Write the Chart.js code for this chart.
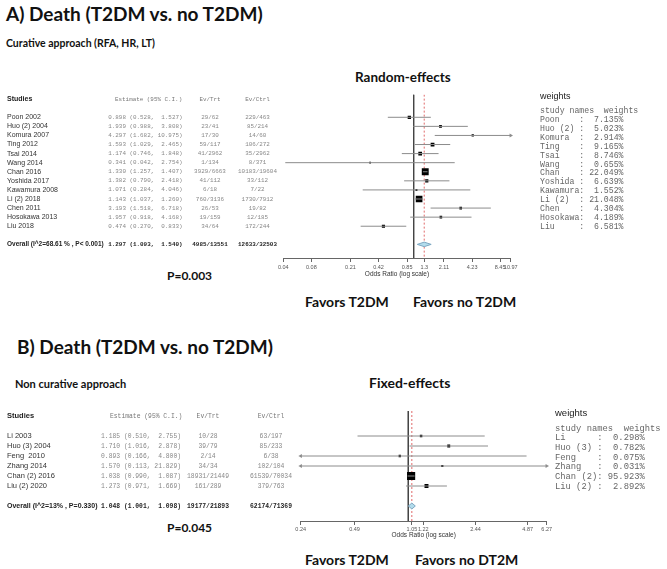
<!DOCTYPE html>
<html>
<head>
<meta charset="utf-8">
<script src="https://cdn.jsdelivr.net/npm/chart.js@4.4.1/dist/chart.umd.min.js"></script>
<style>
  body { margin: 0; background: #fff; }
  #page { position: relative; width: 667px; height: 569px; overflow: hidden; font-family: Lato, "Liberation Sans", sans-serif; }
  .lbl { position: absolute; white-space: nowrap; font-weight: 700; color: #111; line-height: 1; }
  canvas { position: absolute; left: 0; }
</style>
</head>
<body>
<div id="page">
  <div class="lbl" style="left:6px;top:4px;font-size:19px">A) Death (T2DM vs. no T2DM)</div>
  <div class="lbl" style="left:6px;top:37.5px;font-size:10.5px">Curative approach (RFA, HR, LT)</div>
  <div class="lbl" style="left:355px;top:71px;font-size:13.5px">Random-effects</div>
  <div class="lbl" style="left:167px;top:270px;font-size:12px">P=0.003</div>
  <div class="lbl" style="left:305px;top:295px;font-size:14px">Favors T2DM</div>
  <div class="lbl" style="left:413px;top:295px;font-size:14px">Favors no T2DM</div>
  <div class="lbl" style="left:17px;top:336.5px;font-size:19px">B) Death (T2DM vs. no T2DM)</div>
  <div class="lbl" style="left:15px;top:377.5px;font-size:11px">Non curative approach</div>
  <div class="lbl" style="left:369px;top:376px;font-size:14px">Fixed-effects</div>
  <div class="lbl" style="left:167px;top:522px;font-size:12px">P=0.045</div>
  <div class="lbl" style="left:305px;top:553px;font-size:14px">Favors T2DM</div>
  <div class="lbl" style="left:415px;top:553px;font-size:14px">Favors no DT2M</div>
  <canvas id="forestA" width="667" height="290" style="top:0"></canvas>
  <canvas id="forestB" width="667" height="250" style="top:300px"></canvas>
</div>
<script>
// ---- A) curative approach, random effects ----
const studiesA = ['Poon 2002', 'Huo (2) 2004', 'Komura 2007', 'Ting 2012', 'Tsai 2014', 'Wang 2014', 'Chan 2016',
  'Yoshida 2017', 'Kawamura 2008', 'Li (2) 2018', 'Chen 2011', 'Hosokawa 2013', 'Liu 2018'];
const orA = [0.898, 1.939, 4.297, 1.593, 1.174, 0.341, 1.330, 1.382, 1.071, 1.143, 3.193, 1.957, 0.474];
const lowA = [0.528, 0.988, 1.682, 1.029, 0.746, 0.042, 1.257, 0.790, 0.284, 1.037, 1.518, 0.918, 0.270];
const highA = [1.527, 3.808, 10.975, 2.465, 1.848, 2.754, 1.407, 2.418, 4.046, 1.260, 6.718, 4.168, 0.833];
const evTrtA = ['29/62', '23/41', '17/30', '59/117', '41/2962', '1/134', '3929/6663', '41/112', '6/18', '760/3136', '26/53', '19/159', '34/64'];
const evCtrlA = ['229/463', '85/214', '14/60', '106/272', '35/2962', '8/371', '10183/19604', '33/112', '7/22', '1730/7912', '19/82', '12/185', '172/244'];
const weightNamesA = ['Poon', 'Huo (2)', 'Komura', 'Ting', 'Tsai', 'Wang', 'Chan', 'Yoshida', 'Kawamura', 'Li (2)', 'Chen', 'Hosokawa', 'Liu'];
const weightsA = [7.135, 5.023, 2.914, 9.165, 8.746, 0.655, 22.049, 6.639, 1.552, 21.048, 4.304, 4.189, 6.581];
const overallA = [1.297, 1.093, 1.540];
const overallEvA = ['4985/13551', '12633/32503'];
const overallLabelA = 'Overall (I^2=68.61 % , P< 0.001)';
const ticksA = [0.04, 0.08, 0.21, 0.42, 0.85, 1.3, 2.11, 4.23, 8.45, 10.97];
const tickLabelsA = ['0.04', '0.08', '0.21', '0.42', '0.85', '1.3', '2.11', '4.23', '8.45', '10.97'];

// ---- B) non curative approach, fixed effects ----
const studiesB = ['Li 2003', 'Huo (3) 2004', 'Feng  2010', 'Zhang 2014', 'Chan (2) 2016', 'Liu (2) 2020'];
const orB = [1.185, 1.710, 0.893, 1.570, 1.038, 1.273];
const lowB = [0.510, 1.016, 0.166, 0.113, 0.990, 0.971];
const highB = [2.755, 2.878, 4.800, 21.829, 1.087, 1.669];
const evTrtB = ['10/28', '39/79', '2/14', '34/34', '18931/21449', '161/289'];
const evCtrlB = ['63/197', '85/233', '6/38', '102/104', '61539/70034', '379/763'];
const weightNamesB = ['Li', 'Huo (3)', 'Feng', 'Zhang', 'Chan (2)', 'Liu (2)'];
const weightsB = [0.298, 0.782, 0.075, 0.031, 95.923, 2.892];
const overallB = [1.048, 1.001, 1.098];
const overallEvB = ['19177/21893', '62174/71369'];
const overallLabelB = 'Overall (I^2=13% , P=0.330)';
const ticksB = [0.24, 0.49, 1.05, 1.22, 2.44, 4.87, 6.27];
const tickLabelsB = ['0.24', '0.49', '1.05', '1.22', '2.44', '4.87', '6.27'];

const SANS = '"Liberation Sans", Arial, sans-serif';
const MONO = '"Liberation Mono", "DejaVu Sans Mono", monospace';

function fmtEst(o, l, h) {
  return o.toFixed(3) + ' (' + l.toFixed(3) + ', ' + h.toFixed(3).padStart(6) + ')';
}

// draws the left table and the weights list next to the plot
function tablePlugin(p) {
  return {
    id: 'forestTable',
    afterDraw(chart) {
      const ctx = chart.ctx;
      const y = chart.scales.y;
      const yAt = r => y.getPixelForValue(r);
      ctx.save();
      ctx.textBaseline = 'middle';

      // header
      ctx.fillStyle = '#222';
      ctx.textAlign = 'left';
      ctx.font = 'bold ' + p.nameSize + 'px ' + SANS;
      ctx.fillText('Studies', p.colName, yAt(-2));
      ctx.fillStyle = '#777';
      ctx.font = p.monoSize + 'px ' + MONO;
      ctx.fillText('Estimate (95% C.I.)', p.colHead, yAt(-2));
      ctx.textAlign = 'center';
      ctx.fillText('Ev/Trt', p.colTrt, yAt(-2));
      ctx.fillText('Ev/Ctrl', p.colCtrl, yAt(-2));

      // study rows
      p.studies.forEach((s, i) => {
        const yy = yAt(i);
        ctx.textAlign = 'left';
        ctx.fillStyle = '#333';
        ctx.font = p.nameSize + 'px ' + SANS;
        ctx.fillText(s, p.colName, yy);
        ctx.fillStyle = '#888';
        ctx.font = p.monoSize + 'px ' + MONO;
        ctx.textAlign = 'right';
        ctx.fillText(fmtEst(p.or[i], p.low[i], p.high[i]), p.colEst, yy);
        ctx.textAlign = 'center';
        ctx.fillText(p.evTrt[i], p.colTrt, yy);
        ctx.fillText(p.evCtrl[i], p.colCtrl, yy);
      });

      // overall row
      const yo = yAt(p.studies.length + 1);
      ctx.fillStyle = '#222';
      ctx.textAlign = 'left';
      ctx.font = 'bold ' + (p.nameSize - 0.5) + 'px ' + SANS;
      ctx.fillText(p.overallLabel, p.colName, yo);
      ctx.font = 'bold ' + p.monoSize + 'px ' + MONO;
      ctx.textAlign = 'right';
      ctx.fillText(fmtEst(p.overall[0], p.overall[1], p.overall[2]), p.colEst, yo);
      ctx.textAlign = 'center';
      ctx.fillText(p.overallEv[0], p.colTrt, yo);
      ctx.fillText(p.overallEv[1], p.colCtrl, yo);

      // weights list
      ctx.textAlign = 'left';
      ctx.fillStyle = '#222';
      ctx.font = p.wTitleSize + 'px ' + SANS;
      ctx.fillText('weights', p.wx, p.wTitleY);
      ctx.fillStyle = '#666';
      ctx.font = p.wSize + 'px ' + MONO;
      ctx.fillText('study names  weights', p.wx, p.wy);
      p.weightNames.forEach((n, i) => {
        const line = n.padEnd(8) + ': ' + p.weights[i].toFixed(3).padStart(6) + '%';
        ctx.fillText(line, p.wx, p.wy + (i + 1) * p.wStep);
      });
      ctx.restore();
    }
  };
}

function forestChart(id, p) {
  const n = p.or.length;
  const rowO = n + 1;
  const datasets = [];

  // confidence intervals, clipped to the axis with arrow heads
  for (let i = 0; i < n; i++) {
    const cutLeft = p.low[i] < p.xMin;
    const cutRight = p.high[i] > p.xMax;
    datasets.push({
      data: [{ x: Math.max(p.low[i], p.xMin), y: i }, { x: Math.min(p.high[i], p.xMax), y: i }],
      borderColor: '#8c8c8c',
      borderWidth: 1,
      pointRadius: [cutLeft ? 2.3 : 0, cutRight ? 2.3 : 0],
      pointStyle: 'triangle',
      pointRotation: [-90, 90],
      pointBackgroundColor: '#8c8c8c',
      pointBorderWidth: 0,
      clip: false,
      order: 0
    });
  }

  // study boxes
  datasets.push({
    data: p.or.map((v, i) => ({ x: v, y: i })),
    showLine: false,
    pointStyle: 'rect',
    pointRadius: p.weights.map(w => p.boxSide(w) / Math.SQRT2),
    pointBackgroundColor: '#000',
    pointBorderWidth: 0,
    order: 1
  });

  // pooled diamond
  const o = p.overall;
  datasets.push({
    data: [{ x: o[1], y: rowO }, { x: o[0], y: rowO - p.dh }, { x: o[2], y: rowO }, { x: o[0], y: rowO + p.dh }, { x: o[1], y: rowO }],
    borderColor: '#7ea8c2',
    borderWidth: 1,
    backgroundColor: '#b2dcec',
    fill: 'shape',
    pointRadius: 0,
    order: 1
  });

  // no effect line and pooled estimate line
  datasets.push({
    data: [{ x: 1, y: p.yMin }, { x: 1, y: p.yMax }],
    borderColor: '#444',
    borderWidth: 1,
    pointRadius: 0,
    order: 2
  });
  datasets.push({
    data: [{ x: o[0], y: p.yMin }, { x: o[0], y: p.yMax }],
    borderColor: '#e06a6a',
    borderWidth: 1,
    borderDash: [2, 2],
    pointRadius: 0,
    order: 2
  });

  return new Chart(document.getElementById(id), {
    type: 'line',
    data: { datasets: datasets },
    options: {
      responsive: false,
      animation: false,
      layout: { padding: { left: p.padL, right: p.padR, top: p.padT, bottom: p.padB } },
      plugins: { legend: { display: false }, tooltip: { enabled: false } },
      scales: {
        x: {
          type: 'logarithmic',
          min: p.xMin,
          max: p.xMax,
          afterBuildTicks: s => { s.ticks = p.ticks.map(v => ({ value: v })); },
          afterFit: s => { s.height = p.axisH; },
          ticks: {
            autoSkip: false,
            maxRotation: 0,
            padding: p.tickPad,
            color: '#555',
            font: { size: 5.5, family: SANS },
            callback: (v, i) => p.tickLabels[i]
          },
          grid: { drawOnChartArea: false, drawTicks: true, tickLength: 4, color: '#666' },
          border: { display: true, color: '#666' },
          title: {
            display: true,
            text: 'Odds Ratio (log scale)',
            color: '#333',
            font: { size: 6.5, family: SANS },
            padding: { top: 0, bottom: 0 }
          }
        },
        y: { type: 'linear', display: false, reverse: true, min: p.yMin, max: p.yMax }
      }
    },
    plugins: [tablePlugin(p)]
  });
}

forestChart('forestA', {
  studies: studiesA, or: orA, low: lowA, high: highA, evTrt: evTrtA, evCtrl: evCtrlA,
  weightNames: weightNamesA, weights: weightsA, overall: overallA, overallEv: overallEvA,
  overallLabel: overallLabelA, ticks: ticksA, tickLabels: tickLabelsA,
  xMin: 0.04, xMax: 10.97, yMin: -2.5, yMax: 15.5,
  padL: 283.3, padR: 156.3, padT: 94.6, padB: 12, axisH: 20, tickPad: 2,
  boxSide: w => 1.6 + 0.24 * w, dh: 0.25,
  nameSize: 7, monoSize: 5.9, colName: 7, colHead: 115, colEst: 182.5, colTrt: 210, colCtrl: 257.5,
  wx: 540, wTitleY: 96.7, wTitleSize: 9, wy: 111.1, wStep: 8.89, wSize: 8.2
});

forestChart('forestB', {
  studies: studiesB, or: orB, low: lowB, high: highB, evTrt: evTrtB, evCtrl: evCtrlB,
  weightNames: weightNamesB, weights: weightsB, overall: overallB, overallEv: overallEvB,
  overallLabel: overallLabelB, ticks: ticksB, tickLabels: tickLabelsB,
  xMin: 0.24, xMax: 6.27, yMin: -2.5, yMax: 8.5,
  padL: 300.7, padR: 120.3, padT: 111, padB: 11, axisH: 18, tickPad: 1,
  boxSide: w => 2.2 + 1.3 * Math.log(1 + w), dh: 0.3,
  nameSize: 7.5, monoSize: 6.35, colName: 7, colHead: 110, colEst: 181, colTrt: 208, colCtrl: 271,
  wx: 555, wTitleY: 113, wTitleSize: 9.5, wy: 128.3, wStep: 9.67, wSize: 8.8
});
</script>
</body>
</html>
